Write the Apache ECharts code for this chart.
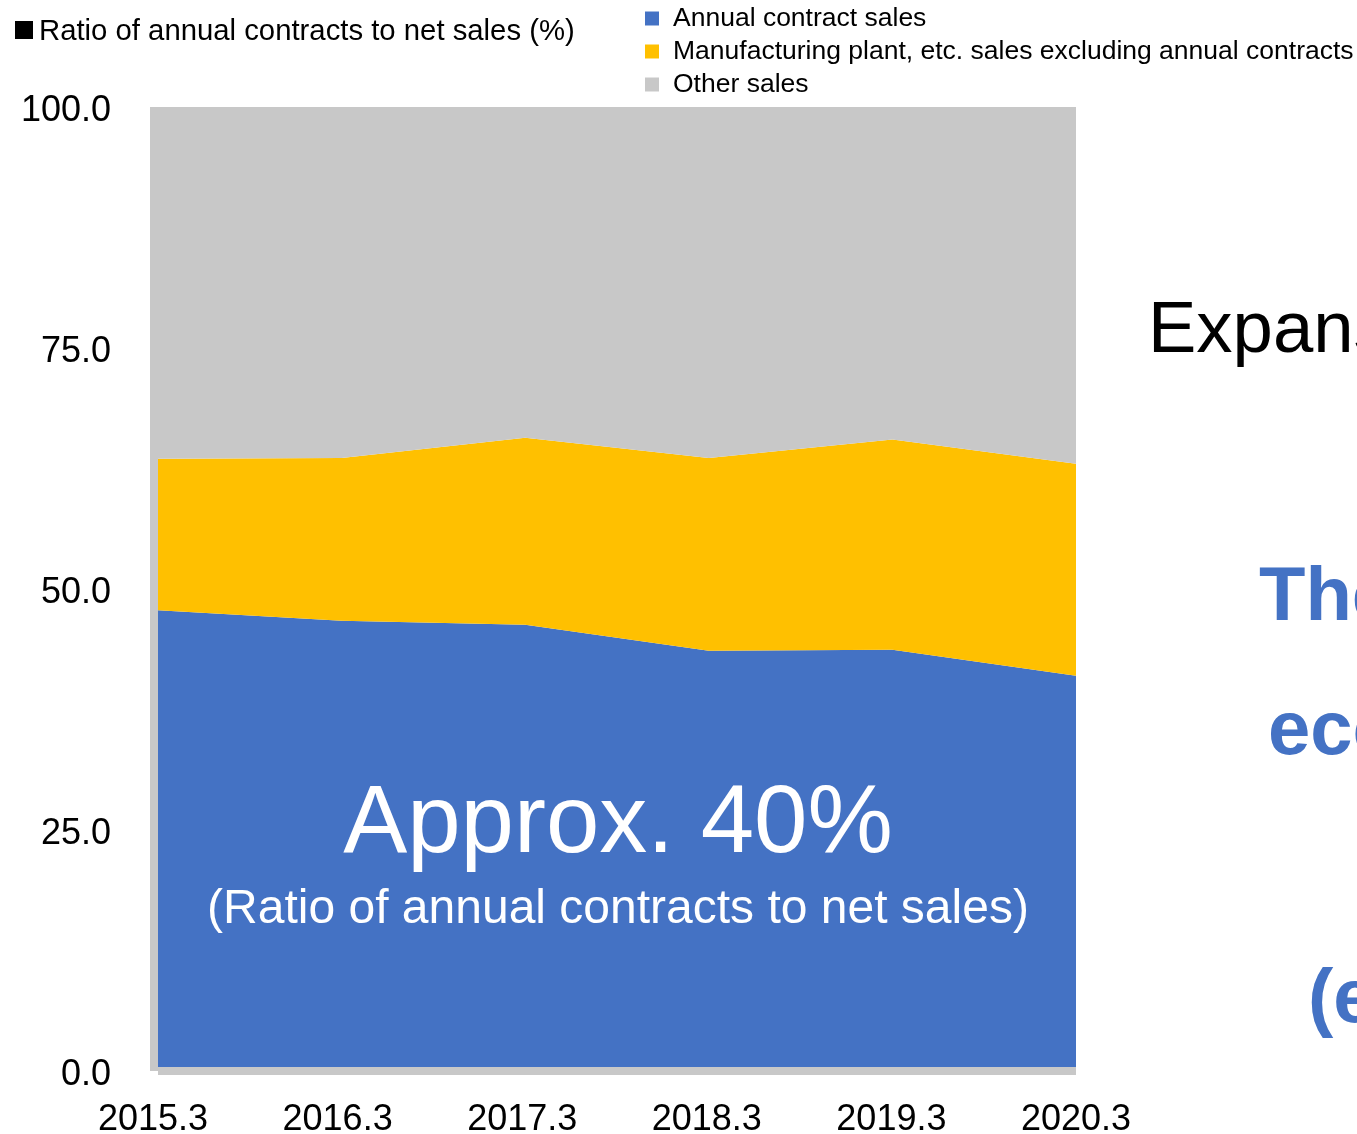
<!DOCTYPE html>
<html>
<head>
<meta charset="utf-8">
<script src="https://cdn.jsdelivr.net/npm/echarts@6/dist/echarts.min.js"></script>
<style>
  html, body { margin: 0; padding: 0; background: #ffffff; }
  #chart { width: 1357px; height: 1134px; }
</style>
</head>
<body>
<div id="chart"></div>
<script>
// Fiscal years (March year-end)
const years = ['2015.3', '2016.3', '2017.3', '2018.3', '2019.3', '2020.3'];

// Share of net sales by type (%)
const annualContract = [47.8, 46.7, 46.3, 43.6, 43.7, 41.0];
const plantExclAnnual = [15.7, 16.9, 19.4, 20.0, 21.8, 22.0];
const otherSales = [36.5, 36.4, 34.3, 36.4, 34.5, 37.0];

const seriesNames = [
  'Annual contract sales',
  'Manufacturing plant, etc. sales excluding annual contracts',
  'Other sales'
];
const seriesColors = ['#4472C4', '#FFC000', '#C8C8C8'];

const FONT = '"Liberation Sans", Arial, sans-serif';

const chart = echarts.init(document.getElementById('chart'), null, { renderer: 'canvas' });

function areaSeries(name, data, color) {
  return {
    name: name,
    type: 'line',
    stack: 'share',
    data: data,
    symbol: 'none',
    smooth: false,
    lineStyle: { width: 0 },
    areaStyle: { color: color, opacity: 1 },
    itemStyle: { color: color },
    emphasis: { disabled: true },
    z: 1
  };
}

// Year labels sit slightly left of their points, less so towards the right
const yearLabelRich = {};
years.forEach((_, i) => {
  yearLabelRich['p' + i] = {
    fontFamily: FONT, fontSize: 36, color: '#000',
    padding: [0, Math.max(0, 10 - 2 * i), 0, 0]
  };
});

chart.setOption({
  animation: false,
  grid: {
    left: 158, right: 281, top: 107, bottom: 63,
    containLabel: false,
    outerBoundsMode: 'none'
  },
  legend: {
    orient: 'vertical',
    left: 640,
    top: 0,
    itemWidth: 14,
    itemHeight: 14,
    itemGap: 6,
    icon: 'rect',
    selectedMode: false,
    data: seriesNames,
    textStyle: { fontFamily: FONT, fontSize: 26.5, color: '#000', lineHeight: 26, padding: [0, 0, 0, 9] }
  },
  xAxis: {
    type: 'category',
    data: years,
    boundaryGap: false,
    offset: 1,
    axisLine: { show: true, lineStyle: { color: '#C8C8C8', width: 8, cap: 'butt' } },
    axisTick: { show: false },
    axisLabel: {
      interval: 0,
      hideOverlap: false,
      fontFamily: FONT, fontSize: 36, color: '#000', margin: 30,
      formatter: (v, i) => '{p' + i + '|' + v + '}',
      rich: yearLabelRich
    },
    splitLine: { show: false },
    z: 5
  },
  yAxis: {
    type: 'value',
    min: 0,
    max: 100,
    interval: 25,
    offset: 4,
    axisLine: { show: true, lineStyle: { color: '#C8C8C8', width: 8, cap: 'butt' } },
    axisTick: { show: false },
    axisLabel: {
      fontFamily: FONT, fontSize: 36, color: '#000', margin: 43,
      formatter: v => '{v|' + v.toFixed(1) + '}',
      rich: { v: { fontFamily: FONT, fontSize: 36, color: '#000', padding: [8, 0, 0, 0] } }
    },
    splitLine: { show: false },
    z: 5
  },
  series: [
    areaSeries(seriesNames[0], annualContract, seriesColors[0]),
    areaSeries(seriesNames[1], plantExclAnnual, seriesColors[1]),
    areaSeries(seriesNames[2], otherSales, seriesColors[2])
  ],
  graphic: [
    { type: 'rect', shape: { x: 15, y: 21, width: 18, height: 18 }, style: { fill: '#000' }, z: 10 },
    { type: 'text', style: { x: 39, y: 32, text: 'Ratio of annual contracts to net sales (%)', font: '29.3px ' + FONT, fill: '#000', textAlign: 'left', textVerticalAlign: 'middle' }, z: 10 },
    { type: 'text', style: { x: 618, y: 826, text: 'Approx. 40%', font: '96px ' + FONT, fill: '#ffffff', textAlign: 'center', textVerticalAlign: 'middle' }, z: 10 },
    { type: 'text', style: { x: 618, y: 910, text: '(Ratio of annual contracts to net sales)', font: '48px ' + FONT, fill: '#ffffff', textAlign: 'center', textVerticalAlign: 'middle' }, z: 10 },
    { type: 'text', style: { x: 1148, y: 332, text: 'Expansion', font: '72.5px ' + FONT, fill: '#000', textAlign: 'left', textVerticalAlign: 'middle' }, z: 10 },
    { type: 'text', style: { x: 1259, y: 599, text: 'The', font: 'bold 76px ' + FONT, fill: '#4472C4', textAlign: 'left', textVerticalAlign: 'middle' }, z: 10 },
    { type: 'text', style: { x: 1268, y: 733, text: 'economic', font: 'bold 76px ' + FONT, fill: '#4472C4', textAlign: 'left', textVerticalAlign: 'middle' }, z: 10 },
    { type: 'text', style: { x: 1308, y: 1001, text: '(e', font: 'bold 76px ' + FONT, fill: '#4472C4', textAlign: 'left', textVerticalAlign: 'middle' }, z: 10 }
  ]
});
</script>
</body>
</html>
